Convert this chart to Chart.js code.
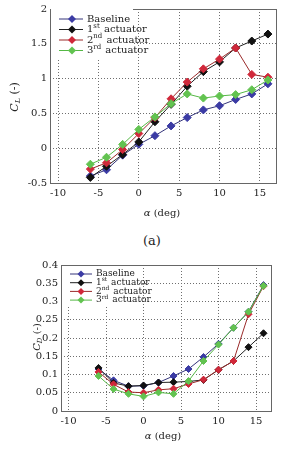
<!DOCTYPE html>
<html>
<head>
<meta charset="utf-8">
<script src="https://cdn.jsdelivr.net/npm/chart.js@4/dist/chart.umd.min.js"></script>
<style>
  html, body { margin: 0; padding: 0; background: #fff; }
  body { width: 293px; height: 451px; position: relative; overflow: hidden; }
  .box { position: absolute; left: 0; width: 293px; }
  #caption { position: absolute; top: 233px; left: 0; width: 304px; text-align: center;
             font: 13px 'DejaVu Serif', serif; color: #222; }
</style>
</head>
<body>
<div class="box" style="top:0;height:230px"><canvas id="clChart" width="293" height="230" style="width:293px;height:230px"></canvas></div>
<div id="caption">(a)</div>
<div class="box" style="top:250px;height:201px"><canvas id="cdChart" width="293" height="201" style="width:293px;height:201px"></canvas></div>
<script>
// angle of attack (deg)
const alpha = [-6, -4, -2, 0, 2, 4, 6, 8, 10, 12, 14, 16];
const seriesNames = ['Baseline', '1st actuator', '2nd actuator', '3rd actuator'];

// lift coefficient
const clBaseline = [-0.40, -0.31, -0.10, 0.055, 0.18, 0.32, 0.44, 0.55, 0.61, 0.70, 0.78, 0.925];
const clFirst    = [-0.42, -0.26, -0.09, 0.09, 0.38, 0.63, 0.89, 1.10, 1.24, 1.44, 1.54, 1.64];
const clSecond   = [-0.30, -0.21, -0.02, 0.21, 0.44, 0.71, 0.95, 1.14, 1.28, 1.44, 1.06, 1.02];
const clThird    = [-0.23, -0.13, 0.055, 0.27, 0.45, 0.64, 0.78, 0.72, 0.75, 0.77, 0.84, 0.98];

// drag coefficient
const cdBaseline = [0.115, 0.084, 0.068, 0.069, 0.078, 0.096, 0.115, 0.148, 0.184, 0.228, 0.272, 0.345];
const cdFirst    = [0.118, 0.077, 0.068, 0.070, 0.078, 0.079, 0.081, 0.085, 0.113, 0.137, 0.175, 0.213];
const cdSecond   = [0.107, 0.073, 0.052, 0.050, 0.058, 0.061, 0.074, 0.086, 0.113, 0.137, 0.265, 0.342];
const cdThird    = [0.096, 0.060, 0.047, 0.040, 0.051, 0.047, 0.082, 0.137, 0.182, 0.228, 0.272, 0.343];

const alphaTicks = [-10, -5, 0, 5, 10, 15];
const clTicks = [-0.5, 0, 0.5, 1, 1.5, 2];
const cdTicks = [0, 0.05, 0.1, 0.15, 0.2, 0.25, 0.3, 0.35, 0.4];

const lineColors = ['#34347a', '#222222', '#9a2a2a', '#55b845'];
const markerColors = ['#3b3ba4', '#111111', '#d0283a', '#62c350'];

Chart.defaults.font.family = "'DejaVu Serif', serif";
Chart.defaults.font.size = 10;
Chart.defaults.color = '#222';

function drawDiamond(ctx, x, y, r, fill) {
    ctx.beginPath();
    ctx.moveTo(x, y - r);
    ctx.lineTo(x + r, y);
    ctx.lineTo(x, y + r);
    ctx.lineTo(x - r, y);
    ctx.closePath();
    ctx.fillStyle = fill;
    ctx.fill();
}

// draws "1st actuator" with the suffix raised
function drawLabel(ctx, text, x, y, size) {
    const m = text.match(/^(\d)(st|nd|rd) (.*)$/);
    ctx.textBaseline = 'middle';
    ctx.textAlign = 'left';
    ctx.font = size + "px 'DejaVu Serif', serif";
    if (!m) {
        ctx.fillText(text, x, y);
        return;
    }
    ctx.fillText(m[1], x, y);
    x += ctx.measureText(m[1]).width;
    ctx.font = Math.round(size * 0.65) + "px 'DejaVu Serif', serif";
    ctx.fillText(m[2], x, y - size * 0.35);
    x += ctx.measureText(m[2]).width + 1;
    ctx.font = size + "px 'DejaVu Serif', serif";
    ctx.fillText(' ' + m[3], x, y);
}

// italic symbol with optional subscript, then plain unit text
function drawAxisTitle(ctx, t) {
    ctx.save();
    ctx.translate(t.x, t.y);
    if (t.rotate) ctx.rotate(-Math.PI / 2);
    ctx.fillStyle = '#222';
    ctx.textBaseline = 'middle';
    ctx.textAlign = 'left';
    const big = "italic " + t.size + "px 'DejaVu Serif', serif";
    const small = "italic " + Math.round(t.size * 0.7) + "px 'DejaVu Serif', serif";
    const plain = t.size + "px 'DejaVu Serif', serif";
    ctx.font = big; const w1 = ctx.measureText(t.symbol).width;
    ctx.font = small; const w2 = t.sub ? ctx.measureText(t.sub).width : 0;
    ctx.font = plain; const w3 = ctx.measureText(t.unit).width;
    let x = -(w1 + w2 + w3) / 2;
    ctx.font = big; ctx.fillText(t.symbol, x, 0); x += w1;
    if (t.sub) { ctx.font = small; ctx.fillText(t.sub, x, t.size * 0.3); x += w2; }
    ctx.font = plain; ctx.fillText(t.unit, x, 0);
    ctx.restore();
}

const framePlugin = {
    id: 'frame',
    beforeDatasetsDraw(chart) {
        const a = chart.chartArea, ctx = chart.ctx;
        ctx.save();
        ctx.strokeStyle = '#666';
        ctx.lineWidth = 1;
        ctx.strokeRect(Math.round(a.left) + 0.5, Math.round(a.top) + 0.5,
                       Math.round(a.right - a.left), Math.round(a.bottom - a.top));
        ctx.restore();
    },
    afterDatasetsDraw(chart, args, opts) {
        const ctx = chart.ctx, L = opts.legend;
        ctx.save();
        ctx.fillStyle = '#fff';
        ctx.fillRect(L.box[0], L.box[1], L.box[2], L.box[3]);
        chart.data.datasets.forEach((ds, i) => {
            const y = L.firstY + i * L.step;
            ctx.strokeStyle = ds.borderColor;
            ctx.lineWidth = 1;
            ctx.beginPath();
            ctx.moveTo(L.lineX0, y);
            ctx.lineTo(L.lineX1, y);
            ctx.stroke();
            drawDiamond(ctx, L.markX, y, L.radius, ds.pointBackgroundColor);
            ctx.fillStyle = '#222';
            drawLabel(ctx, ds.label, L.textX, y, L.size);
        });
        ctx.restore();
    },
    afterDraw(chart, args, opts) {
        drawAxisTitle(chart.ctx, opts.yTitle);
        drawAxisTitle(chart.ctx, opts.xTitle);
    }
};

function makeChart(id, series, yMin, yMax, yTicks, area, frame) {
    const canvas = document.getElementById(id);
    const W = canvas.width, H = canvas.height;
    return new Chart(canvas, {
        type: 'line',
        data: {
            datasets: series.map((vals, i) => ({
                label: seriesNames[i],
                data: alpha.map((a, k) => ({ x: a, y: vals[k] })),
                borderColor: lineColors[i],
                backgroundColor: markerColors[i],
                pointBackgroundColor: markerColors[i],
                pointBorderColor: markerColors[i],
                pointStyle: 'rectRot',
                pointRadius: frame.pointRadius,
                pointBorderWidth: 1,
                borderWidth: 1,
                tension: 0,
                order: 4 - i
            }))
        },
        options: {
            responsive: false,
            animation: false,
            layout: { padding: { left: 0, right: W - area.right, top: area.top, bottom: 0 } },
            plugins: {
                legend: { display: false },
                tooltip: { enabled: false },
                frame: frame
            },
            scales: {
                x: {
                    type: 'linear',
                    min: -11,
                    max: 17,
                    afterBuildTicks: s => { s.ticks = alphaTicks.map(v => ({ value: v })); },
                    afterFit: s => { s.height = H - area.bottom; },
                    grid: { color: '#6e6e6e', lineWidth: 1, drawTicks: false },
                    border: { display: false, dash: [1, 2] },
                    ticks: { padding: 4, maxRotation: 0, callback: v => String(v) }
                },
                y: {
                    min: yMin,
                    max: yMax,
                    afterBuildTicks: s => { s.ticks = yTicks.map(v => ({ value: v })); },
                    afterFit: s => { s.width = area.left; },
                    grid: { color: '#6e6e6e', lineWidth: 1, drawTicks: false },
                    border: { display: false, dash: [1, 2] },
                    ticks: { padding: 3, callback: v => String(v) }
                }
            }
        },
        plugins: [framePlugin]
    });
}

makeChart('clChart', [clBaseline, clFirst, clSecond, clThird], -0.5, 2, clTicks,
    { left: 50, right: 276, top: 8, bottom: 183 },
    {
        pointRadius: 4,
        legend: { box: [51, 9, 82, 49], firstY: 19, step: 10.5, lineX0: 59, lineX1: 83,
                  markX: 72, textX: 87, radius: 4, size: 10 },
        yTitle: { x: 15, y: 97, rotate: true, symbol: 'C', sub: 'L', unit: ' (-)', size: 11 },
        xTitle: { x: 162, y: 213, rotate: false, symbol: 'α', sub: '', unit: ' (deg)', size: 10 }
    });

makeChart('cdChart', [cdBaseline, cdFirst, cdSecond, cdThird], 0, 0.4, cdTicks,
    { left: 61, right: 271, top: 15, bottom: 161 },
    {
        pointRadius: 3.5,
        legend: { box: [62, 16, 76, 40], firstY: 24, step: 8.7, lineX0: 70, lineX1: 92,
                  markX: 81, textX: 96, radius: 3.5, size: 9 },
        yTitle: { x: 37, y: 87, rotate: true, symbol: 'C', sub: 'D', unit: ' (-)', size: 10 },
        xTitle: { x: 163, y: 186, rotate: false, symbol: 'α', sub: '', unit: ' (deg)', size: 10 }
    });
</script>
</body>
</html>
